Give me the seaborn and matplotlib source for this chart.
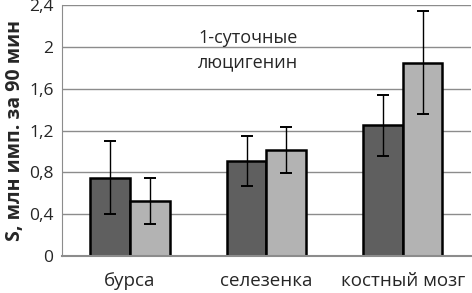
import matplotlib
matplotlib.use('Agg')
import matplotlib.pyplot as plt
import numpy as np
import pandas as pd
import seaborn as sns

# данные
categories = ['бурса', 'селезенка', 'костный мозг']
series = ['серия 1', 'серия 2']
means_1 = [0.75, 0.91, 1.25]
means_2 = [0.53, 1.01, 1.85]
err_1 = [0.35, 0.24, 0.29]
err_2 = [0.22, 0.22, 0.49]
yticks = [0, 0.4, 0.8, 1.2, 1.6, 2, 2.4]
ytick_labels = ['0', '0,4', '0,8', '1,2', '1,6', '2', '2,4']

df = pd.DataFrame({
    'cat': categories * 2,
    'ser': [series[0]] * 3 + [series[1]] * 3,
    'val': means_1 + means_2,
    'err': err_1 + err_2,
})

sns.set_style('white')
plt.rcParams['font.family'] = ['Open Sans', 'DejaVu Sans']

fig, ax = plt.subplots(figsize=(4.72, 2.93), dpi=100)
fig.subplots_adjust(left=0.131, right=0.998, top=0.983, bottom=0.126)

sns.barplot(data=df, x='cat', y='val', hue='ser', order=categories, hue_order=series,
            palette=['#5f5f5f', '#b3b3b3'], edgecolor='black', linewidth=1.8,
            width=0.58, errorbar=None, legend=False, ax=ax)

# планки погрешностей по центрам столбиков
for bars, s in zip(ax.containers, series):
    sub = df[df['ser'] == s].set_index('cat').loc[categories]
    xs = [b.get_x() + b.get_width() / 2 for b in bars]
    ax.errorbar(xs, sub['val'], yerr=sub['err'], fmt='none', ecolor='black',
                elinewidth=1.0, capsize=4, capthick=1.4, zorder=5)

ax.set_ylim(0, 2.4)
ax.set_xlim(-0.5, 2.5)
ax.set_yticks(yticks)
ax.set_yticklabels(ytick_labels, fontsize=12.5)
ax.yaxis.grid(True, color='#8c8c8c', linewidth=1.0)
ax.set_axisbelow(True)
ax.tick_params(axis='y', length=4, color='#8c8c8c', pad=2)

# метки категорий, деления между группами
ax.set_xticks([-0.5, 0.5, 1.5, 2.5])
ax.set_xticklabels([])
ax.tick_params(axis='x', length=5, color='#8c8c8c', width=1)
for i, c in enumerate(categories):
    ax.text(i, -0.15, c, ha='center', va='top', fontsize=13.5, transform=ax.transData)
ax.set_xlabel('')
ax.set_ylabel('S, млн имп. за 90 мин', fontsize=14, fontweight='bold', labelpad=3)

for sp in ['top', 'right']:
    ax.spines[sp].set_visible(False)
ax.spines['left'].set_color('#8c8c8c')
ax.spines['bottom'].set_color('#8c8c8c')
ax.spines['bottom'].set_linewidth(1.5)

ax.text(0.865, 2.08, '1-суточные', fontsize=13, ha='center', va='center')
ax.text(0.865, 1.85, 'люцигенин', fontsize=13, ha='center', va='center')

fig.savefig('out.png', dpi=100)
